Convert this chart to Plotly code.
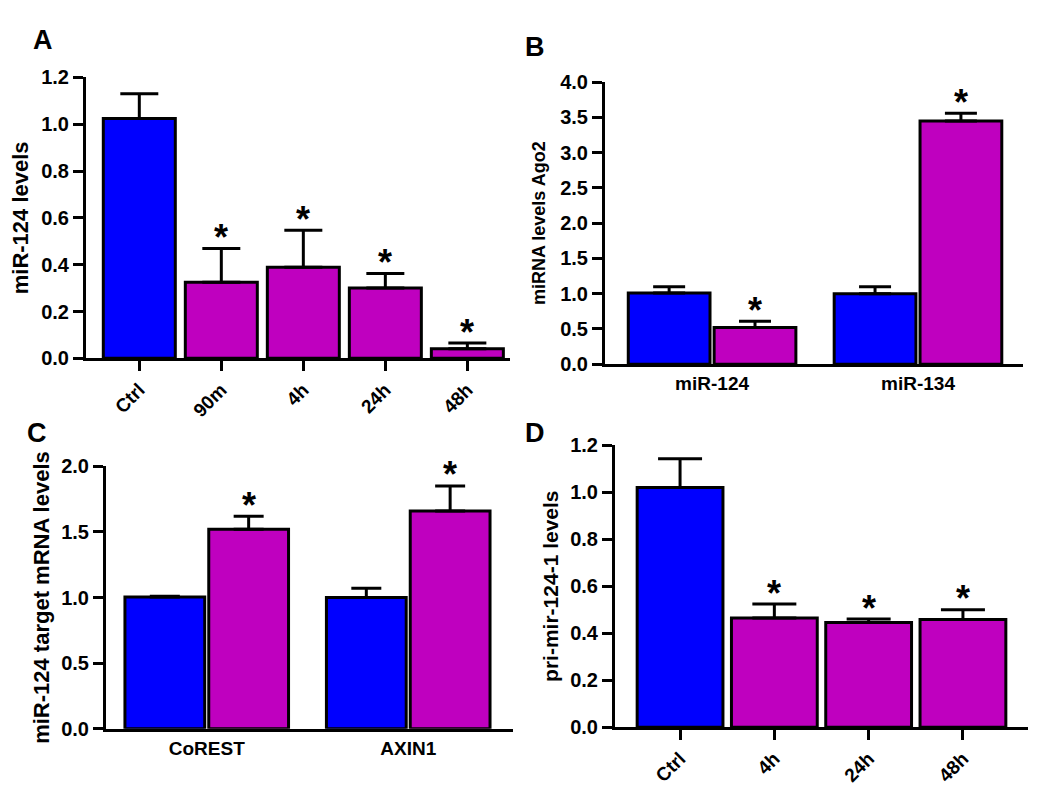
import plotly.graph_objects as go

W, H = 1050, 795
BLUE = "#0000FF"
MAG = "#BF00BF"
FONT = "Liberation Sans"

# Panel A
a_cats = ["Ctrl", "90m", "4h", "24h", "48h"]
a_vals = [1.024, 0.325, 0.389, 0.300, 0.041]
a_err = [0.106, 0.144, 0.158, 0.062, 0.024]
a_sig = [False, True, True, True, True]

# Panel B
b_cats = ["miR-124", "miR-134"]
b_ctrl = [1.01, 1.00]
b_ctrl_err = [0.09, 0.10]
b_trt = [0.52, 3.45]
b_trt_err = [0.09, 0.11]

# Panel C
c_cats = ["CoREST", "AXIN1"]
c_ctrl = [1.005, 1.00]
c_ctrl_err = [0.005, 0.07]
c_trt = [1.52, 1.66]
c_trt_err = [0.10, 0.19]

# Panel D
d_cats = ["Ctrl", "4h", "24h", "48h"]
d_vals = [1.02, 0.465, 0.445, 0.458]
d_err = [0.122, 0.059, 0.015, 0.042]
d_sig = [False, True, True, True]


def px2x(p):
    return p / W


def px2y(p):
    return 1 - p / H


fig = go.Figure()
annotations = []


def star(x, y, xref, yref):
    annotations.append(dict(x=x, y=y, xref=xref, yref=yref, text="*", showarrow=False,
                            yanchor="middle", yshift=11,
                            font=dict(family=FONT, size=36, color="black", weight="bold")))


# --- A
fig.add_trace(go.Bar(x=a_cats, y=a_vals, width=0.878,
                     marker=dict(color=[BLUE] + [MAG] * (len(a_cats) - 1),
                                 line=dict(color="black", width=3)),
                     error_y=dict(type="data", array=a_err, arrayminus=[0] * len(a_err), symmetric=False,
                                  color="black", thickness=3, width=19),
                     xaxis="x", yaxis="y", showlegend=False))
for i, (v, e, s) in enumerate(zip(a_vals, a_err, a_sig)):
    if s:
        star(i, v + e, "x", "y")

# --- B
bw, boff = 0.397, 0.01
fig.add_trace(go.Bar(x=b_cats, y=b_ctrl, width=bw, offset=-bw - boff,
                     marker=dict(color=BLUE, line=dict(color="black", width=3)),
                     error_y=dict(type="data", array=b_ctrl_err, arrayminus=[0, 0], symmetric=False,
                                  color="black", thickness=3, width=16),
                     xaxis="x2", yaxis="y2", showlegend=False))
fig.add_trace(go.Bar(x=b_cats, y=b_trt, width=bw, offset=boff,
                     marker=dict(color=MAG, line=dict(color="black", width=3)),
                     error_y=dict(type="data", array=b_trt_err, arrayminus=[0, 0], symmetric=False,
                                  color="black", thickness=3, width=16),
                     xaxis="x2", yaxis="y2", showlegend=False))
for i, (v, e) in enumerate(zip(b_trt, b_trt_err)):
    star(i + boff + bw / 2, v + e, "x2", "y2")

# --- C
cw, coff = 0.396, 0.01
fig.add_trace(go.Bar(x=c_cats, y=c_ctrl, width=cw, offset=-cw - coff,
                     marker=dict(color=BLUE, line=dict(color="black", width=3)),
                     error_y=dict(type="data", array=c_ctrl_err, arrayminus=[0, 0], symmetric=False,
                                  color="black", thickness=3, width=15),
                     xaxis="x3", yaxis="y3", showlegend=False))
fig.add_trace(go.Bar(x=c_cats, y=c_trt, width=cw, offset=coff,
                     marker=dict(color=MAG, line=dict(color="black", width=3)),
                     error_y=dict(type="data", array=c_trt_err, arrayminus=[0, 0], symmetric=False,
                                  color="black", thickness=3, width=15),
                     xaxis="x3", yaxis="y3", showlegend=False))
for i, (v, e) in enumerate(zip(c_trt, c_trt_err)):
    star(i + coff + cw / 2, v + e, "x3", "y3")

# --- D
fig.add_trace(go.Bar(x=d_cats, y=d_vals, width=0.91,
                     marker=dict(color=[BLUE] + [MAG] * (len(d_cats) - 1),
                                 line=dict(color="black", width=3)),
                     error_y=dict(type="data", array=d_err, arrayminus=[0] * len(d_err), symmetric=False,
                                  color="black", thickness=3, width=22),
                     xaxis="x4", yaxis="y4", showlegend=False))
for i, (v, e, s) in enumerate(zip(d_vals, d_err, d_sig)):
    if s:
        star(i, v + e, "x4", "y4")

tickfont = dict(family=FONT, size=20, color="black", weight="bold")


def xax(domain, rng, anchor, ticks, angle):
    return dict(domain=domain, range=rng, anchor=anchor, showline=True, linewidth=3, linecolor="black",
                ticks=ticks, ticklen=10, tickwidth=3, tickcolor="black", showgrid=False, zeroline=False,
                tickangle=angle, tickfont=dict(family=FONT, size=19, color="black", weight="bold"),
                fixedrange=True)


def yax(domain, rng, anchor, dtick, title, tsize, standoff):
    return dict(domain=domain, range=rng, anchor=anchor, showline=True, linewidth=3, linecolor="black",
                ticks="outside", ticklen=10, tickwidth=3, tickcolor="black", showgrid=False, zeroline=False,
                dtick=dtick, tick0=0, tickformat=".1f", tickfont=tickfont,
                title=dict(text=title, standoff=standoff,
                           font=dict(family=FONT, size=tsize, color="black", weight="bold")),
                fixedrange=True)


layout = dict(
    width=W, height=H, margin=dict(l=0, r=0, t=0, b=0),
    paper_bgcolor="white", plot_bgcolor="white",
    xaxis=xax([px2x(78), px2x(502)], [-0.65, 4.52], "y", "outside", -45),
    yaxis=yax([px2y(349), px2y(60)], [0, 1.2], "x", 0.2, "miR-124 levels", 22, 10),
    xaxis2=xax([px2x(597), px2x(1015)], [-0.52, 1.51], "y2", "", 0),
    yaxis2=yax([px2y(355), px2y(65)], [0, 4.0], "x2", 0.5, "miRNA levels Ago2", 18, 10),
    xaxis3=xax([px2x(98), px2x(505)], [-0.50, 1.52], "y3", "", 0),
    yaxis3=yax([px2y(730), px2y(460)], [0, 2.0], "x3", 0.5, "miR-124 target mRNA levels", 22, 6),
    xaxis4=xax([px2x(607), px2x(1020)], [-0.69, 3.69], "y4", "outside", -45),
    yaxis4=yax([px2y(728.3), px2y(438.3)], [0, 1.2], "x4", 0.2, "pri-mir-124-1 levels", 21, 6),
)

letters = [("A", 35, 22), ("B", 527, 29), ("C", 29, 426), ("D", 527, 426)]
for t, lx, ly in letters:
    annotations.append(dict(x=px2x(lx), y=px2y(ly), xref="paper", yref="paper", text=t, showarrow=False,
                            xanchor="center", yanchor="middle",
                            font=dict(family=FONT, size=27, color="black", weight="bold")))

layout["annotations"] = annotations
fig.update_layout(**layout)
fig.write_html("out.html")
